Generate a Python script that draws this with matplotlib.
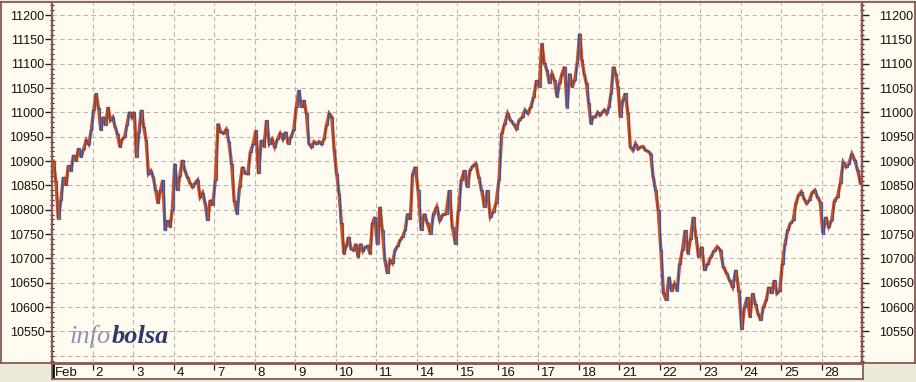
import matplotlib
matplotlib.use("Agg")
import matplotlib.pyplot as plt
import matplotlib.transforms as mtransforms
from matplotlib.ticker import MultipleLocator
import numpy as np

# ---------------- data (intraday index levels, Feb 2011) ----------------
day_labels = ["Feb", "2", "3", "4", "7", "8", "9", "10", "11", "14",
              "15", "16", "17", "18", "21", "22", "23", "24", "25", "28"]

feb01 = [10900, 10860, 10782, 10820, 10867, 10850, 10891, 10880, 10912, 10900, 10926, 10908, 10925, 10943, 10935, 10963]
feb02 = [11005, 11039, 11010, 10963, 10991, 10975, 11011, 10984, 10990, 10970, 10955, 10929, 10945, 10950, 10975, 11001, 10990]
feb03 = [11001, 10909, 10960, 11005, 10970, 10943, 10874, 10880, 10867, 10840, 10813, 10840, 10861, 10758, 10778, 10765, 10799]
feb04 = [10895, 10840, 10870, 10902, 10880, 10867, 10855, 10847, 10855, 10861, 10826, 10835, 10813, 10778, 10820, 10810]
feb07 = [10861, 10977, 10960, 10957, 10965, 10940, 10895, 10819, 10792, 10847, 10888, 10875, 10874, 10919, 10935]
feb08 = [10963, 10875, 10943, 10930, 10984, 10936, 10945, 10929, 10945, 10957, 10945, 10960, 10936, 10950, 10963]
feb09 = [11011, 11046, 11011, 11025, 10998, 10936, 10929, 10940, 10936, 10940, 10935, 10946, 10975, 10998, 10991, 10922]
feb10 = [10874, 10833, 10772, 10710, 10725, 10744, 10720, 10717, 10730, 10703, 10730, 10715, 10723, 10725, 10710, 10772, 10785]
feb11 = [10730, 10806, 10758, 10696, 10669, 10696, 10690, 10717, 10725, 10737, 10745, 10758, 10792, 10780, 10874, 10888]
feb14 = [10840, 10758, 10792, 10772, 10751, 10792, 10806, 10778, 10790, 10792, 10840, 10765, 10730]
feb15 = [10800, 10861, 10881, 10847, 10881, 10890, 10895, 10867, 10840, 10806, 10840, 10785, 10795, 10813]
feb16 = [10861, 10957, 10977, 10998, 10984, 10977, 10967, 10984, 10990, 11005, 10998, 11011, 11032, 11066]
feb17 = [11053, 11142, 11101, 11087, 11060, 11080, 11066, 11032, 11060, 11080, 11094, 11010, 11080, 11053, 11066, 11101]
feb18 = [11162, 11107, 11080, 11060, 11020, 10977, 10991, 10991, 11000, 10994, 11000, 11005, 10998, 11011, 11040, 11094, 11080, 11053]
feb21 = [10991, 11025, 11039, 10998, 10929, 10922, 10936, 10925, 10929, 10930, 10922, 10920, 10915, 10867, 10840, 10799]
feb22 = [10717, 10628, 10614, 10662, 10634, 10648, 10634, 10689, 10717, 10758, 10710, 10740, 10785, 10744, 10703]
feb23 = [10724, 10676, 10689, 10703, 10715, 10724, 10717, 10682, 10670, 10655, 10641, 10676, 10634]
feb24 = [10555, 10600, 10620, 10579, 10628, 10607, 10586, 10573, 10600, 10614, 10641, 10628, 10655, 10628, 10634]
feb25 = [10689, 10730, 10758, 10772, 10778, 10813, 10830, 10837, 10823, 10813, 10820, 10835, 10840, 10826, 10816]
feb28 = [10751, 10785, 10765, 10778, 10819, 10826, 10854, 10898, 10888, 10895, 10915, 10902, 10881, 10854]

sessions = [feb01, feb02, feb03, feb04, feb07, feb08, feb09, feb10, feb11, feb14,
            feb15, feb16, feb17, feb18, feb21, feb22, feb23, feb24, feb25, feb28]

# session position (trading days since Feb 1 open) for evenly spaced samples
t, p = [], []
for d, vals in enumerate(sessions):
    n = len(vals)
    for i, v in enumerate(vals):
        t.append(d + (i + 0.5) / n)
        p.append(v)
t = np.array(t)
p = np.array(p)

# ---------------- figure ----------------
W, H = 916, 382
fig = plt.figure(figsize=(W / 100, H / 100), dpi=100)
fig.patch.set_facecolor("#ECE9D8")

cream = "#FFFBF0"
brown = "#8A5656"
lblfont = "Liberation Sans"

def fbox(x0, y0, x1, y1):
    # pixel box (top-based) -> figure fraction rect
    return [x0 / W, (H - y1) / H, (x1 - x0) / W, (y1 - y0) / H]

# background panel (whole upper area incl. y labels)
bg = fig.add_axes(fbox(1, 2, 915, 363), zorder=0)
bg.set_facecolor(cream)
bg.set_xticks([]); bg.set_yticks([])
for s in bg.spines.values():
    s.set_color(brown)
    s.set_linewidth(1.3)

ax = fig.add_axes(fbox(52, 3, 862, 363), zorder=2)
ax.set_facecolor("none")
ax.set_xlim(0, 20)
ax.set_ylim(10485, 11225)

for s in ["top", "bottom"]:
    ax.spines[s].set_visible(False)
for s in ["left", "right"]:
    ax.spines[s].set_color(brown)
    ax.spines[s].set_linewidth(1.6)

yticks = np.arange(10550, 11201, 50)
ax.set_yticks(yticks)
ax.yaxis.set_minor_locator(MultipleLocator(10))
ax.set_xticks(np.arange(1, 20))
ax.tick_params(axis="x", length=0, labelbottom=False)
ax.tick_params(axis="y", which="major", left=True, right=False, labelleft=True,
               length=5, width=1, color="#222222", direction="out", pad=0.5,
               labelsize=9, labelcolor="#111111")
ax.tick_params(axis="y", which="minor", left=True, right=False, length=2.5, width=0.8,
               color="#222222", direction="inout")
for lab in ax.get_yticklabels():
    lab.set_fontfamily(lblfont)

# right-hand axis (same scale)
axr = ax.twinx()
axr.set_ylim(ax.get_ylim())
axr.set_yticks(yticks)
axr.yaxis.set_minor_locator(MultipleLocator(10))
for s in ["top", "bottom", "left"]:
    axr.spines[s].set_visible(False)
axr.spines["right"].set_color(brown)
axr.spines["right"].set_linewidth(1.6)
axr.tick_params(axis="y", which="major", length=5, width=1, color="#222222", direction="out",
                pad=7.2, labelsize=9, labelcolor="#111111")
axr.tick_params(axis="y", which="minor", length=2.5, width=0.8, color="#222222", direction="inout")
for lab in axr.get_yticklabels():
    lab.set_fontfamily(lblfont)

# grid
gridkw = dict(color="#BDB4AC", lw=0.8, ls=(0, (4, 3)), zorder=1)
for yv in np.arange(10500, 11201, 50):
    ax.axhline(yv, **gridkw)
for xv in range(1, 20):
    ax.axvline(xv, **gridkw)

# price trace
ax.plot(t, p, color="#C4532C", lw=2.4, solid_joinstyle="miter", zorder=3)
ax.plot(t, p, color="#3F4D8F", lw=0.9, drawstyle="steps-mid", alpha=0.85, zorder=4)

# logo
logo_y = 0.0555
ax.text(0.0215, logo_y, "info", transform=ax.transAxes, fontfamily="Liberation Serif",
        fontstyle="italic", fontsize=19, color="#8C93B2", va="baseline", ha="left", zorder=2)
ax.text(0.0735, logo_y, "bolsa", transform=ax.transAxes, fontfamily="Liberation Serif",
        fontstyle="italic", fontweight="bold", fontsize=19, color="#2D3A6C",
        va="baseline", ha="left", zorder=2)

# bottom date strip
ax2 = fig.add_axes(fbox(52, 364, 863, 379), zorder=2)
ax2.set_facecolor(cream)
ax2.set_xlim(0, 20 * 811 / 810)
ax2.set_ylim(0, 1)
ax2.set_yticks([])
for s in ax2.spines.values():
    s.set_color(brown)
    s.set_linewidth(1.3)
ax2.set_xticks(np.arange(1, 20))
ax2.tick_params(axis="x", direction="in", top=True, bottom=False, length=4, width=0.9,
                color="#222222", labelbottom=False)
ax2.axvline(0.02, color="black", lw=2.6)
off = mtransforms.ScaledTranslation(3 / 100, 0, fig.dpi_scale_trans)
for i, lab in enumerate(day_labels):
    ax2.text(i, 0.42, lab, transform=mtransforms.blended_transform_factory(ax2.transData, ax2.transAxes) + off,
             ha="left", va="center", fontsize=9.5, color="#111111", fontfamily=lblfont)

fig.savefig("out.png", dpi=100, facecolor=fig.get_facecolor())
